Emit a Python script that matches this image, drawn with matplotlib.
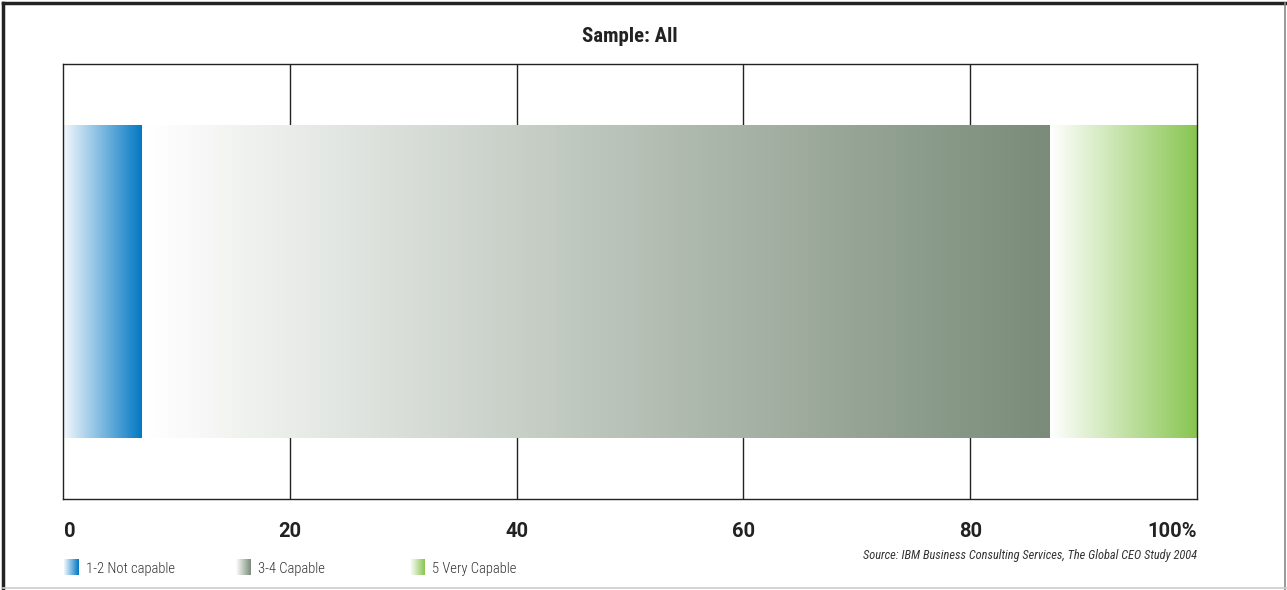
import matplotlib
matplotlib.use("Agg")
import matplotlib.pyplot as plt
import numpy as np
from matplotlib.colors import LinearSegmentedColormap
from matplotlib import font_manager

categories = ["1-2 Not capable", "3-4 Capable", "5 Very Capable"]
values = [7, 80, 13]
end_colors = ["#0077c2", "#7a8c79", "#88c550"]
start_colors = ["#f4f8fd", "#ffffff", "#ffffff"]
ticks = [0, 20, 40, 60, 80, 100]
tick_labels = ["0", "20", "40", "60", "80", "100%"]
title = "Sample: All"
source = "Source: IBM Business Consulting Services, The Global CEO Study 2004"

weights = {}
for f in font_manager.fontManager.ttflist:
    weights.setdefault(f.name, set()).add((f.weight, f.style))


def pick(cands):
    for c in cands:
        w = weights.get(c, set())
        if any(x[0] in (700, 'bold') for x in w) and any(x[0] in (400, 'normal', 'regular') for x in w):
            return c
    return 'DejaVu Sans'


FONT = pick(['Roboto Condensed', 'Archivo Narrow', 'PT Sans Narrow', 'Asap Condensed',
             'Barlow Condensed', 'DejaVu Sans'])
TICKFONT = pick(['Roboto', 'Liberation Sans', 'DejaVu Sans'])
LIGHT = 300 if any(x[0] == 300 for x in weights.get(FONT, set())) else 'normal'
plt.rcParams['font.family'] = [FONT, 'DejaVu Sans']

W, H = 1287, 590
fig = plt.figure(figsize=(W / 100, H / 100), dpi=100)
ax = fig.add_axes([63 / W, 1 - 499 / H, (1197 - 63) / W, (499 - 64) / H])
ax.set_xlim(0, 100)
ax.set_ylim(0, 1)

grad = np.linspace(0, 1, 256).reshape(1, -1)
left = 0
for cat, v, c0, c1 in zip(categories, values, start_colors, end_colors):
    bars = ax.barh(0.5, v, left=left, height=0.72, color='none', edgecolor='none')
    cmap = LinearSegmentedColormap.from_list(cat, [c0, c1])
    im = ax.imshow(grad, cmap=cmap, aspect='auto', extent=[left, left + v, 0.14, 0.86],
                   interpolation='bilinear', zorder=2)
    im.set_clip_path(bars.patches[0])
    left += v

for t in ticks[1:-1]:
    ax.axvline(t, color='#222222', lw=1.0, zorder=1)
for s in ax.spines.values():
    s.set_color('#222222')
    s.set_linewidth(1.0)
ax.set_xticks([])
ax.set_yticks([])
ax.set_xlim(0, 100)

for t, lab in zip(ticks, tick_labels):
    ha = 'center'
    x = t
    if t == 0:
        ha = 'left'; x = 0.1
    elif t == 100:
        ha = 'right'
    ax.text(x, -0.075, lab, ha=ha, va='center', fontsize=14.5, fontweight='bold',
            color='#222222', family=[TICKFONT, 'DejaVu Sans'])

fig.text(630 / W, 1 - 37 / H, title, ha='center', va='center', fontsize=15,
         fontweight='bold', color='#222222')
fig.text(1197 / W, 1 - 556 / H, source, ha='right', va='center', fontsize=8.9,
         style='italic', color='#333333')

leg_x = [64, 236, 410]
for x0, cat, c0, c1 in zip(leg_x, categories, start_colors, end_colors):
    lax = fig.add_axes([x0 / W, 1 - 575 / H, 15 / W, 16 / H])
    cmap = LinearSegmentedColormap.from_list(cat + "l", [c0, c1])
    lax.imshow(grad, cmap=cmap, aspect='auto', interpolation='bilinear')
    lax.axis('off')
    fig.text((x0 + 22) / W, 1 - 569 / H, cat, ha='left', va='center', fontsize=10.5,
             color='#333333', fontweight=LIGHT)

fig.add_artist(plt.Line2D([3 / W, 3 / W], [0, 1 - 3 / H], color='#222222', lw=2.5,
                          transform=fig.transFigure))
fig.add_artist(plt.Line2D([3 / W, 1], [1 - 3 / H, 1 - 3 / H], color='#222222', lw=2.5,
                          transform=fig.transFigure))
fig.add_artist(plt.Line2D([1 - 2 / W, 1 - 2 / W], [0, 1 - 3 / H], color='#888888', lw=1.2,
                          transform=fig.transFigure))
fig.add_artist(plt.Line2D([3 / W, 1], [2 / H, 2 / H], color='#cccccc', lw=1.2,
                          transform=fig.transFigure))

fig.savefig("out.png", dpi=100)
